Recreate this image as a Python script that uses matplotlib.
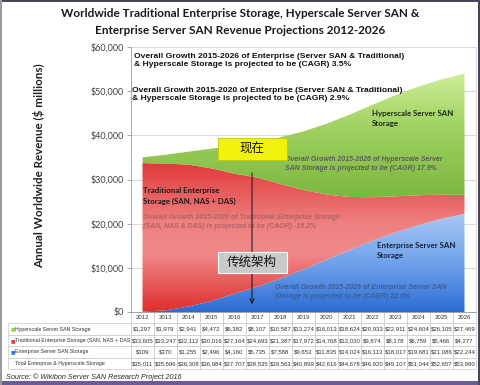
import numpy as np
import matplotlib
matplotlib.use("Agg")
import matplotlib.pyplot as plt
from matplotlib.colors import LinearSegmentedColormap
from matplotlib.patches import Rectangle
from matplotlib.ticker import FuncFormatter

plt.rcParams['font.family'] = ['Lato', 'Noto Sans CJK SC', 'DejaVu Sans']

# data ($ millions)
years = list(range(2012, 2027))
hyperscale = [1297, 1979, 2941, 4472, 6382, 8107, 10587, 13274, 16013, 18624,
              20933, 22911, 24604, 26105, 27469]
traditional = [33605, 33247, 32112, 30016, 27164, 24693, 21387, 17972, 14768,
               12030, 9874, 8178, 6759, 5466, 4277]
server_san = [109, 370, 1255, 2496, 4160, 5735, 7588, 9653, 11835, 14024,
              16113, 18017, 19681, 21086, 22244]
total = [35011, 35596, 36308, 36984, 37707, 38535, 39563, 40899, 42616, 44678,
         46920, 49107, 51044, 52657, 53990]
row_labels = ["Hyperscale Server SAN Storage",
              "Traditional Enterprise Storage (SAN, NAS + DAS)",
              "Enterprise Server SAN Storage",
              "Total Enterprise & Hyperscale Storage"]
row_colors = ["#9bd35a", "#e03c3c", "#3a7ad8", None]

fig = plt.figure(figsize=(4.81, 3.85), dpi=100)
fig.patch.set_facecolor("white")

# px helpers for placing things like the original slide
W, H = 481, 385
ax_l, ax_r, ax_t, ax_b = 131, 476, 47, 312
ax = fig.add_axes([ax_l / W, 1 - ax_b / H, (ax_r - ax_l) / W, (ax_b - ax_t) / H])


def fx(x):
    return (x - ax_l) / (ax_r - ax_l)


def fy(y):
    return (ax_b - y) / (ax_b - ax_t)


x = np.array(years)
s1 = np.array(server_san)
s2 = s1 + np.array(traditional)
s3 = s2 + np.array(hyperscale)

layers = [
    (np.zeros_like(s1), s1, [(0, "#2c6cd4"), (0.45, "#6a9ee8"), (1, "#a8c8f4")]),
    (s1, s2, [(0, "#de2e2e"), (0.4, "#f08a8a"), (0.6, "#ee8080"), (1, "#e23a3a")]),
    (s2, s3, [(0, "#7cb83e"), (0.55, "#9fd060"), (1, "#cdee96")]),
]
ax.set_xlim(2011.5, 2026.5)
ax.set_ylim(0, 60000)
for lo, hi, stops in layers:
    poly = ax.fill_between(x, lo, hi, facecolor="none", edgecolor="none", zorder=2)
    ymin, ymax = lo.min(), hi.max()
    cmap = LinearSegmentedColormap.from_list("g", stops)
    grad = np.linspace(0, 1, 256).reshape(-1, 1)
    im = ax.imshow(grad, cmap=cmap, aspect="auto", origin="lower",
                   extent=[2011.5, 2026.5, ymin, ymax], zorder=2)
    im.set_clip_path(poly.get_paths()[0], transform=ax.transData)
ax.set_xlim(2011.5, 2026.5)
ax.set_ylim(0, 60000)

# axes styling
ax.set_yticks(range(0, 60001, 10000))
ax.yaxis.set_major_formatter(FuncFormatter(lambda v, _: f"${v:,.0f}"))
ax.tick_params(axis="y", labelsize=6.5, labelcolor="#404040", color="#9a9a9a",
               length=3, width=0.6, pad=2)
ax.set_xticks([])
ax.grid(axis="y", color="#d4d4d4", lw=0.6, zorder=0)
ax.spines["top"].set_visible(False)
ax.spines["left"].set_color("#9a9a9a")
ax.spines["bottom"].set_color("#9a9a9a")
ax.spines["right"].set_color("#d0d0d0")
for sp in ax.spines.values():
    sp.set_linewidth(0.6)
ax.set_ylabel("Annual Worldwide Revenue ($ millions)", fontsize=8.4,
              fontweight="bold", color="#222222")
ax.yaxis.set_label_coords(fx(45), fy(166))

fig.text(240 / W, 1 - 22 / H,
         "Worldwide Traditional Enterprise Storage, Hyperscale Server SAN &\n"
         "Enterprise Server SAN Revenue Projections 2012-2026",
         ha="center", va="center", fontsize=8.5, fontweight="bold",
         color="#1a1a1a", linespacing=1.75)

# annotations
bold_arial = dict(family=["Liberation Sans", "DejaVu Sans"], fontweight="bold")
ax.text(fx(134), fy(53), "Overall Growth 2015-2026 of Enterprise (Server SAN & Traditional)\n"
        "& Hyperscale Storage is projected to be (CAGR) 3.5%",
        transform=ax.transAxes, va="top", ha="left", fontsize=6.1,
        color="#111111", zorder=5, linespacing=1.3, **bold_arial)
ax.text(fx(132), fy(87), "Overall Growth 2015-2020 of Enterprise (Server SAN & Traditional)\n"
        "& Hyperscale Storage is projected to be (CAGR) 2.9%",
        transform=ax.transAxes, va="top", ha="left", fontsize=6.1,
        color="#111111", zorder=5, linespacing=1.3, **bold_arial)
ax.text(fx(372), fy(110), "Hyperscale Server SAN\nStorage", transform=ax.transAxes,
        va="top", ha="left", fontsize=5.7, fontweight="bold", color="#1c2a1c",
        zorder=5, linespacing=1.55)
ax.text(fx(285), fy(156), "Overall Growth 2015-2026 of Hyperscale Server\n"
        "SAN Storage is projected to be (CAGR) 17.9%", transform=ax.transAxes,
        va="top", ha="left", fontsize=5.0, color="#5c5c5c", style="italic",
        zorder=5, linespacing=1.35, **bold_arial)
ax.text(fx(143), fy(187), "Traditional Enterprise\nStorage (SAN, NAS + DAS)",
        transform=ax.transAxes, va="top", ha="left", fontsize=5.7,
        fontweight="bold", color="#1a1a1a", zorder=5, linespacing=1.55)
ax.text(fx(143), fy(214), "Overall Growth 2015-2026 of Traditional Enterprise Storage\n"
        "(SAN, NAS & DAS) is projected to be (CAGR) -16.2%", transform=ax.transAxes,
        va="top", ha="left", fontsize=5.0, color="#b36464", style="italic",
        zorder=5, linespacing=1.35, **bold_arial)
ax.text(fx(377), fy(242), "Enterprise Server SAN\nStorage", transform=ax.transAxes,
        va="top", ha="left", fontsize=5.7, fontweight="bold", color="#16223c",
        zorder=5, linespacing=1.55)
ax.text(fx(275), fy(284), "Overall Growth 2015-2026 of Enterprise Server SAN\n"
        "Storage is projected to be (CAGR) 22.0%", transform=ax.transAxes,
        va="top", ha="left", fontsize=5.0, color="#3d5f96", style="italic",
        zorder=5, linespacing=1.35, **bold_arial)

# arrow and the two boxes
ax.annotate("", xy=(fx(252), fy(307)), xytext=(fx(252), fy(170)),
            xycoords="axes fraction", textcoords="axes fraction",
            arrowprops=dict(arrowstyle="->", color="#111111", lw=0.7,
                            mutation_scale=8), zorder=6)
ax.add_patch(Rectangle((fx(218), fy(160)), fx(287) - fx(218), fy(138) - fy(160),
                       transform=ax.transAxes, fc="#f2f20c", ec="#c9c900",
                       lw=0.6, zorder=7, clip_on=False))
ax.text(fx(252), fy(149), "现在", transform=ax.transAxes, ha="center",
        va="center", fontsize=9, color="#111111", zorder=8,
        family=["Noto Sans CJK SC"])
ax.add_patch(Rectangle((fx(218), fy(273)), fx(287) - fx(218), fy(252) - fy(273),
                       transform=ax.transAxes, fc="#c9c9c9", ec="white",
                       lw=0.8, zorder=7, clip_on=False))
ax.text(fx(252), fy(262.5), "传统架构", transform=ax.transAxes, ha="center",
        va="center", fontsize=9, color="#111111", zorder=8,
        family=["Noto Sans CJK SC"])

# data table under the plot
cols = [""] + [str(y) for y in years]
rows = []
for lab, vals in zip(row_labels, [hyperscale, traditional, server_san, total]):
    rows.append(["    " + lab] + [f"${v:,}" for v in vals])
lab_w = fx(131) - fx(8)
tbl_h = (369 - 312) / (ax_b - ax_t)
tbl = ax.table(cellText=rows, colLabels=cols,
               colWidths=[lab_w] + [1 / 15] * 15, cellLoc="center",
               bbox=[-lab_w, -tbl_h, 1 + lab_w, tbl_h])
tbl.auto_set_font_size(False)
tbl.set_fontsize(4.3)
for (r, c), cell in tbl.get_celld().items():
    cell.set_edgecolor("#c8c8c8")
    cell.set_linewidth(0.5)
    cell.get_text().set_color("#333333")
    cell.get_text().set_family(["Liberation Sans Narrow", "Liberation Sans",
                                "DejaVu Sans"])
    if c == 0:
        cell._loc = "left"
        cell.PAD = 0.01
        cell.get_text().set_ha("left")
        cell.get_text().set_fontsize(3.8)
    if r == 0 and c == 0:
        cell.visible_edges = ""
row_h = tbl_h / 5
for i, col in enumerate(row_colors):
    if col is None:
        continue
    yc = -tbl_h + row_h * (5 - (i + 1) - 0.5)
    ax.text(-lab_w + 0.008, yc, "■", transform=ax.transAxes, fontsize=3.5,
            color=col, ha="left", va="center", family=["DejaVu Sans"])

fig.text(6 / W, 1 - 377 / H, "Source: © Wikibon Server SAN Research Project 2016",
         ha="left", va="center", fontsize=5.2, style="italic", color="#2a2a2a",
         family=["Liberation Sans", "DejaVu Sans"])

# slide frame
fig.patches.append(Rectangle((0, 0), 1, 4 / H, transform=fig.transFigure,
                             fc="#6b5b96", ec="none"))
fig.patches.append(Rectangle((0, 1 - 2 / H), 1, 2 / H, transform=fig.transFigure,
                             fc="#4a4458", ec="none"))
fig.patches.append(Rectangle((1 - 3 / W, 0), 3 / W, 1, transform=fig.transFigure,
                             fc="#4a4458", ec="none"))
fig.patches.append(Rectangle((0, 0), 2 / W, 1, transform=fig.transFigure,
                             fc="#9a9a9a", ec="none"))

fig.savefig("out.png", dpi=100)
